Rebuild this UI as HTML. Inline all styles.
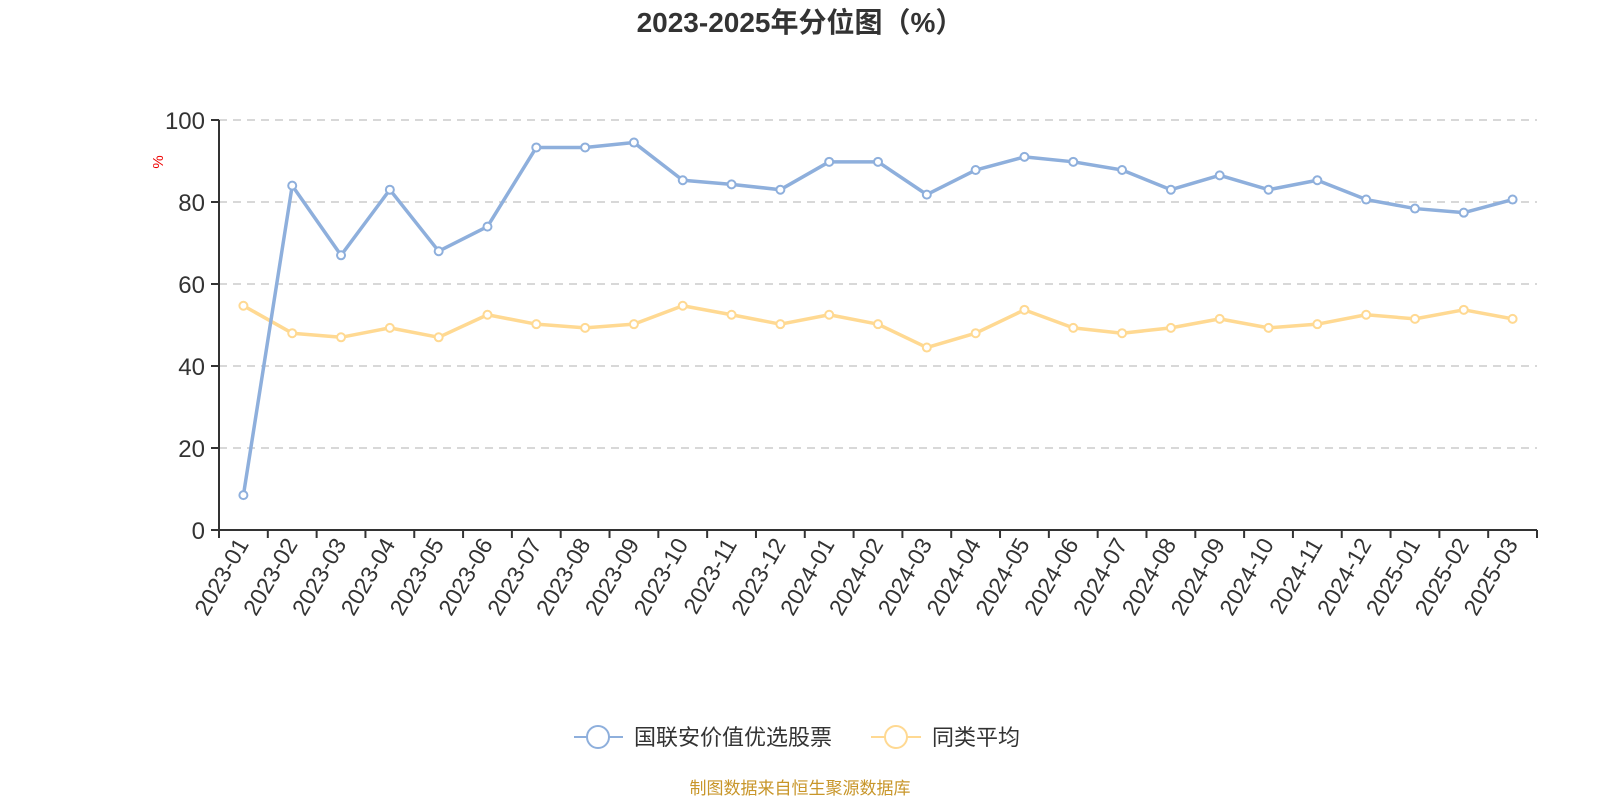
<!DOCTYPE html>
<html><head><meta charset="utf-8"><style>
body{margin:0;background:#fff;}
svg{display:block;font-family:"Liberation Sans","Noto Sans CJK SC",sans-serif;}
</style></head><body>
<svg id="chart" width="1600" height="800">
<text x="800" y="32" text-anchor="middle" font-size="28" font-weight="bold" fill="#333">2023-2025年分位图（%）</text>
<text x="0" y="0" transform="translate(163,162) rotate(-90)" text-anchor="middle" font-size="15" fill="#e00">%</text>
<g id="grid"></g><g id="axes"></g><g id="series"></g>
<g>
<g>
<line x1="574" y1="737" x2="623" y2="737" stroke="#8eafdc" stroke-width="2"/>
<circle cx="598" cy="737" r="11" fill="#fff" stroke="#8eafdc" stroke-width="2"/>
<text x="634" y="745" font-size="22" fill="#333">国联安价值优选股票</text></g>
<g>
<line x1="871" y1="737" x2="921" y2="737" stroke="#ffd992" stroke-width="2"/>
<circle cx="896" cy="737" r="11" fill="#fff" stroke="#ffd992" stroke-width="2"/>
<text x="932" y="745" font-size="22" fill="#333">同类平均</text></g>
</g>
<text x="800" y="794" text-anchor="middle" font-size="17" fill="#c8962a">制图数据来自恒生聚源数据库</text>
</svg>
<script>
const categories=["2023-01","2023-02","2023-03","2023-04","2023-05","2023-06","2023-07","2023-08","2023-09","2023-10","2023-11","2023-12","2024-01","2024-02","2024-03","2024-04","2024-05","2024-06","2024-07","2024-08","2024-09","2024-10","2024-11","2024-12","2025-01","2025-02","2025-03"];
const fundValues=[8.5,84,67,83,68,74,93.3,93.3,94.5,85.3,84.3,83,89.8,89.8,81.8,87.8,91,89.8,87.8,83,86.5,83,85.3,80.6,78.4,77.4,80.6];
const avgValues=[54.7,48,47,49.3,47,52.5,50.2,49.3,50.2,54.7,52.5,50.2,52.5,50.2,44.5,48,53.7,49.3,48,49.3,51.5,49.3,50.2,52.5,51.5,53.7,51.5];
const yTicks=[0,20,40,60,80,100];
const NS="http://www.w3.org/2000/svg";
const X0=219,X1=1537,Y0=530,Y1=120;
const bw=(X1-X0)/categories.length;
const xs=i=>X0+bw*(i+0.5);
const ys=v=>Y0-(v/100)*(Y0-Y1);
function mk(tag,attrs,parent){const e=document.createElementNS(NS,tag);for(const k in attrs)e.setAttribute(k,attrs[k]);parent.appendChild(e);return e;}
const grid=document.getElementById('grid'),axes=document.getElementById('axes'),series=document.getElementById('series');
yTicks.forEach(t=>{
  const y=ys(t);
  if(t>0){const g=mk('line',{x1:X0,x2:X1,y1:y,y2:y,stroke:'#ccc','stroke-width':1.5,'stroke-dasharray':'8,6'},grid);
  
  }
  const tk=mk('line',{x1:X0-8,x2:X0,y1:y,y2:y,stroke:'#333','stroke-width':2},axes);
  
  
  const lb=mk('text',{x:X0-14,y:y+9,'text-anchor':'end','font-size':24,fill:'#333'},axes);
  lb.textContent=t;
  
  
});
const ya=mk('line',{x1:X0,x2:X0,y1:Y1,y2:Y0,stroke:'#333','stroke-width':2},axes);


const xa=mk('line',{x1:X0,x2:X1,y1:Y0,y2:Y0,stroke:'#333','stroke-width':2},axes);


for(let i=0;i<=categories.length;i++){
  const x=X0+bw*i;
  const tk=mk('line',{x1:x,x2:x,y1:Y0,y2:Y0+8,stroke:'#333','stroke-width':2},axes);
  
  
}
categories.forEach((c,i)=>{
  const x=xs(i)+6,y=Y0+14;
  const lb=mk('text',{x:0,y:0,transform:`translate(${x},${y}) rotate(-60)`,'text-anchor':'end','font-size':23,fill:'#333'},axes);
  lb.textContent=c;
  
  
});
function drawSeries(vals,color,name){
  const p=mk('polyline',{points:vals.map((v,i)=>xs(i)+','+ys(v)).join(' '),fill:'none',stroke:color,'stroke-width':3.5,'stroke-linejoin':'round'},series);
  
  
  vals.forEach((v,i)=>{
    const c=mk('circle',{cx:xs(i),cy:ys(v),r:4,fill:'#fff',stroke:color,'stroke-width':2},series);
    
    
  });
}
drawSeries(avgValues,'#ffd992','average');
drawSeries(fundValues,'#8eafdc','fund');
</script>
</body></html>
